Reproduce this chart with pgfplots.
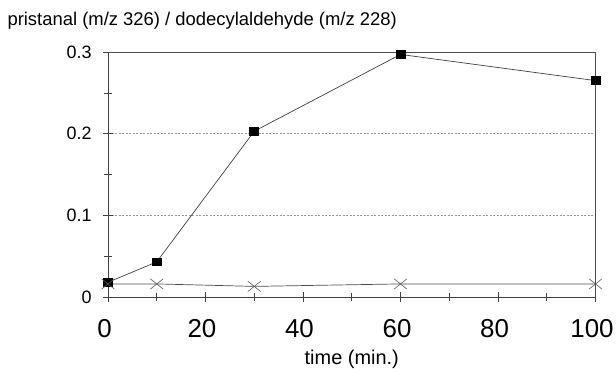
\documentclass[border=0pt]{standalone}
\usepackage{pgfplots}
\pgfplotsset{compat=1.18}
\usepackage{fontspec}
\setmainfont{Liberation Sans}
\begin{document}
\begin{tikzpicture}
\begin{axis}[
  at={(0,0)}, anchor=origin,
  scale only axis, width=487.5bp, height=245bp,
  xmin=0, xmax=100, ymin=0, ymax=0.3,
  axis x line*=bottom, axis y line*=left,
  axis line style={black!75, line width=0.7bp, -},
  xtick={0,20,40,60,80,100}, minor xtick={10,30,50,70,90},
  ytick={0,0.1,0.2,0.3}, yticklabels={0,0.1,0.2,0.3},
  minor ytick={0.05,0.15,0.25},
  tick align=center,
  major tick length=10bp, minor tick length=8bp,
  tick style={black!75, line width=0.6bp},
  ymajorgrids, grid style={black!40, line width=0.6bp, dash pattern=on 2bp off 1.5bp},
  /pgf/number format/assume math mode=true,
  xticklabel style={font=\fontsize{26}{26}\selectfont, anchor=center, xshift=-3.5bp},
  yticklabel style={font=\fontsize{18}{18}\selectfont},
  xticklabel shift=27bp,
  yticklabel shift=8bp,
  xlabel={time (min.)},
  xlabel style={font=\fontsize{20}{20}\selectfont, at={(axis description cs:0.5,0)}, anchor=center, yshift=-62bp},
  clip=false,
]
\draw[black!70, line width=0.7bp] (axis cs:0,0.3) -- (axis cs:100,0.3) -- (axis cs:100,0);
\addplot[black!75, line width=0.7bp, mark=square*, mark size=4.5bp, mark options={black, solid, yscale=0.88}]
  coordinates {(0,0.018) (10,0.043) (30,0.203) (60,0.297) (100,0.265)};
\addplot[black!70, line width=0.7bp, mark=x, mark size=9bp, mark options={black!65, yscale=0.8, line width=0.6bp}]
  coordinates {(0,0.016) (10,0.016) (30,0.013) (60,0.016) (100,0.016)};
\end{axis}
\node[anchor=west, font=\fontsize{18.5}{18.5}\selectfont] at (-104bp,276bp) {pristanal (m/z 326) / dodecylaldehyde (m/z 228)};
\pgfresetboundingbox
\path[use as bounding box] (-108bp,-72bp) rectangle (508bp,297bp);
\end{tikzpicture}
\end{document}
